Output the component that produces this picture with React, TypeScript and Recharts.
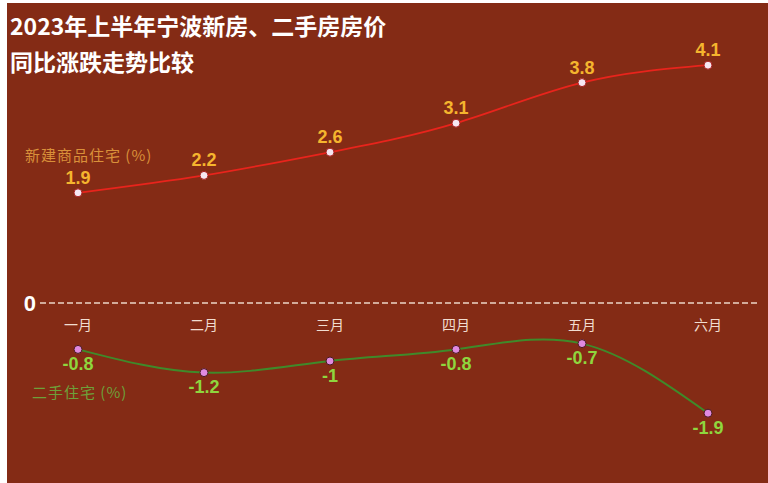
import { LineChart, Line, XAxis, YAxis, ReferenceLine, LabelList } from 'recharts';

const months = ['一月', '二月', '三月', '四月', '五月', '六月'];
const newHome = [1.9, 2.2, 2.6, 3.1, 3.8, 4.1];
const secondHand = [-0.8, -1.2, -1, -0.8, -0.7, -1.9];
const baseline = [0, 0, 0, 0, 0, 0];

const data = months.map((m, i) => ({
	month: m,
	newHome: newHome[i],
	secondHand: secondHand[i],
	base: baseline[i],
}));

const BG = '#842b15';
const CJK = '"Noto Sans CJK SC", "Noto Sans", sans-serif';
const NUM = '"Liberation Sans", Arial, sans-serif';

const App = () => {
	return (
		<div style={{ position: 'absolute', left: 0, top: 0, width: 768, height: 483, background: '#fff' }}>
			<div style={{ position: 'absolute', left: 7, top: 3, width: 761, height: 480, background: BG }}>
				<LineChart
					width={761}
					height={480}
					data={data}
					margin={{ top: 39, right: 8, bottom: 35, left: 0 }}
				>
					<XAxis dataKey='month' hide padding={{ left: 38, right: 52 }} />
					<YAxis
						width={33}
						domain={[-2.5, 4.5]}
						ticks={[0]}
						axisLine={false}
						tickLine={false}
						tickSize={0}
						tickMargin={4}
						tick={{ fill: '#fff', fontSize: 22, fontWeight: 700, fontFamily: NUM }}
					/>
					<ReferenceLine y={0} stroke='#ecd6c6' strokeWidth={1.5} strokeDasharray='6 3' />
					<Line
						dataKey='base'
						stroke='none'
						dot={false}
						activeDot={false}
						isAnimationActive={false}
					>
						<LabelList
							dataKey='month'
							position='bottom'
							offset={17}
							fill='#f1ddd0'
							fontSize={14}
							fontFamily={CJK}
						/>
					</Line>
					<Line
						type='natural'
						dataKey='newHome'
						stroke='#e8241c'
						strokeWidth={1.8}
						dot={{ r: 4, fill: '#f6e8f2', stroke: '#a82020', strokeWidth: 1 }}
						isAnimationActive={false}
					>
						<LabelList
							dataKey='newHome'
							position='top'
							offset={9}
							fill='#f5b52e'
							fontSize={18}
							fontWeight={700}
							fontFamily={NUM}
						/>
					</Line>
					<Line
						type='natural'
						dataKey='secondHand'
						stroke='#3f8a2a'
						strokeWidth={2}
						dot={{ r: 4, fill: '#e08ae0', stroke: '#4a1a20', strokeWidth: 1 }}
						isAnimationActive={false}
					>
						<LabelList
							dataKey='secondHand'
							position='bottom'
							offset={8}
							fill='#8fd63e'
							fontSize={18}
							fontWeight={700}
							fontFamily={NUM}
						/>
					</Line>
				</LineChart>
				<div
					style={{
						position: 'absolute',
						left: 3,
						top: 4,
						color: '#fff',
						fontFamily: CJK,
						fontWeight: 700,
						fontSize: 23,
						lineHeight: '36px',
					}}
				>
					2023年上半年宁波新房、二手房房价
					<br />
					同比涨跌走势比较
				</div>
				<div
					style={{
						position: 'absolute',
						left: 18,
						top: 142,
						color: '#d9903a',
						fontFamily: CJK,
						fontSize: 15,
						letterSpacing: 1,
						lineHeight: '20px',
					}}
				>
					新建商品住宅 (%)
				</div>
				<div
					style={{
						position: 'absolute',
						left: 25,
						top: 379,
						color: '#6ea03a',
						fontFamily: CJK,
						fontSize: 15,
						letterSpacing: 1,
						lineHeight: '20px',
					}}
				>
					二手住宅 (%)
				</div>
			</div>
		</div>
	);
};

export default App;
